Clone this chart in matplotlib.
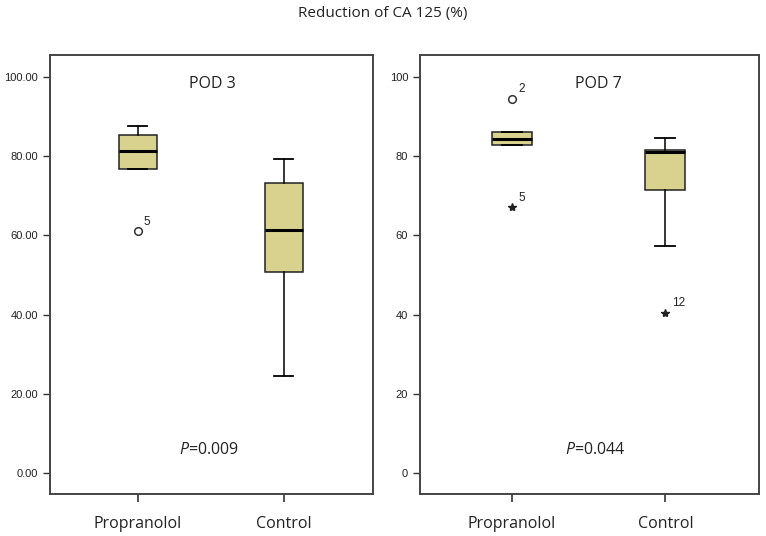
import matplotlib
matplotlib.use("Agg")
from matplotlib import pyplot as plt

plt.rcParams["mathtext.fontset"] = "custom"
plt.rcParams["mathtext.it"] = "Open Sans:italic"
plt.rcParams["mathtext.rm"] = "Open Sans"

groups = ["Propranolol", "Control"]

# POD 3: whislo, q1, med, q3, whishi
pod3_stats = [
    [76.7, 76.7, 81.2, 85.3, 87.6],
    [24.6, 50.8, 61.4, 73.1, 79.2],
]
pod3_outliers = [[(61.1, "5", "o")], []]

# POD 7
pod7_stats = [
    [82.8, 82.8, 84.3, 86.1, 86.1],
    [57.2, 71.5, 80.9, 81.5, 84.6],
]
pod7_outliers = [[(94.5, "2", "o"), (67.1, "5", "*")], [(40.5, "12", "*")]]

pod3_ticks = [0, 20, 40, 60, 80, 100]
pod3_ticklabels = ["0.00", "20.00", "40.00", "60.00", "80.00", "100.00"]
pod7_ticks = [0, 20, 40, 60, 80, 100]
pod7_ticklabels = ["0", "20", "40", "60", "80", "100"]

box_color = "#D9D28F"
ui_font = ["Open Sans", "DejaVu Sans"]
tick_font = ["Liberation Sans", "DejaVu Sans"]


def draw_panel(ax, stats, outliers, ticks, ticklabels, label, ptext, label_x):
    data = []
    for s in stats:
        data.append({"whislo": s[0], "q1": s[1], "med": s[2], "q3": s[3],
                     "whishi": s[4], "fliers": []})
    ax.bxp(data, positions=[1, 2], widths=0.26, patch_artist=True,
           showfliers=False, capwidths=0.13,
           boxprops=dict(facecolor=box_color, edgecolor="#222222", linewidth=1.1),
           medianprops=dict(color="black", linewidth=2.2),
           whiskerprops=dict(color="black", linewidth=1.1),
           capprops=dict(color="black", linewidth=1.3))
    for i, pts in enumerate(outliers):
        for val, num, mk in pts:
            if mk == "o":
                ax.plot(i + 1, val, "o", mfc="white", mec="#333333", ms=5.5, mew=1.1)
            else:
                ax.plot(i + 1, val, "*", color="#222222", ms=6)
            ax.text(i + 1.04, val + 0.8, num, fontsize=8.5, family=tick_font,
                    color="#222222", va="bottom", ha="left")

    ax.set_xlim(0.4, 2.61)
    ax.set_ylim(-5.3, 105.5)
    ax.set_yticks(ticks)
    ax.set_yticklabels(ticklabels, fontsize=8, family=tick_font, color="#222222")
    ax.set_xticks([1, 2])
    ax.set_xticklabels(groups, fontsize=11.5, family=ui_font, color="#222222")
    ax.tick_params(axis="y", direction="out", length=5, width=1, color="#333333")
    ax.tick_params(axis="x", direction="out", length=6, width=1.2,
                   color="#333333", pad=10)
    for sp in ax.spines.values():
        sp.set_color("#444444")
        sp.set_linewidth(1.4)

    ax.text(label_x, 98.3, label, ha="center", va="center", fontsize=11.5,
            family=ui_font, color="#222222")
    ax.text(label_x - 0.02, 5.7, r"$\mathit{P}$" + ptext, ha="center",
            va="center", fontsize=11.5, family=ui_font, color="#222222")


fig = plt.figure(figsize=(7.66, 5.36), dpi=100)
W, H = 766, 536
ax1 = fig.add_axes([50 / W, 1 - 494 / H, 323 / W, 439 / H])
ax2 = fig.add_axes([420 / W, 1 - 494 / H, 339 / W, 439 / H])

draw_panel(ax1, pod3_stats, pod3_outliers, pod3_ticks, pod3_ticklabels,
           "POD 3", "=0.009", 1.51)
draw_panel(ax2, pod7_stats, pod7_outliers, pod7_ticks, pod7_ticklabels,
           "POD 7", "=0.044", 1.56)

fig.text(383 / W, 1 - 14 / H, "Reduction of CA 125 (%)", ha="center",
         va="center", fontsize=11, family=ui_font, color="#222222")

fig.savefig("out.png", dpi=100)
